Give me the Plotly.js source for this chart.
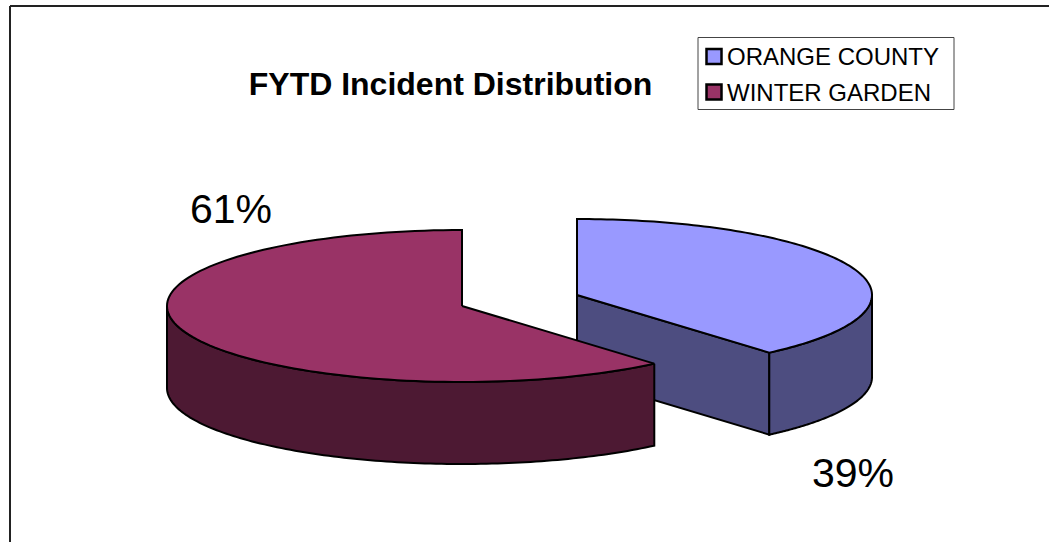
<!DOCTYPE html>
<html>
<head>
<meta charset="utf-8">
<script src="https://cdn.plot.ly/plotly-3.0.1.min.js"></script>
<style>html,body{margin:0;padding:0;background:#fff;overflow:hidden}</style>
</head>
<body>
<div id="chart" style="width:1049px;height:542px"></div>
<script>
const categories = ['ORANGE COUNTY', 'WINTER GARDEN'];
const shares = [38.7, 61.3];
const topColors = ['#9999FF', '#993366'];
const sideColors = ['#4D4D80', '#4D1933'];

const RX = 295, RY = 76, DEPTH = 82;
const centers = [[577, 295], [462, 306]];
const labelPos = [[853, 472.5], [231, 209]];
const FONT = 'Liberation Sans, Arial, sans-serif';

const total = shares.reduce((a, b) => a + b, 0);
const split = shares[0] / total * 2 * Math.PI;
const pt = (c, a, dy) => [c[0] + RX * Math.sin(a), c[1] - RY * Math.cos(a) + (dy || 0)];
function arc(c, a0, a1, dy) {
  const out = [], n = 120;
  for (let i = 0; i <= n; i++) out.push(pt(c, a0 + (a1 - a0) * i / n, dy));
  return out;
}
function poly(points, color, name) {
  const closed = points.concat([points[0]]);
  return {
    type: 'scatter', mode: 'lines', x: closed.map(p => p[0]), y: closed.map(p => p[1]),
    fill: 'toself', fillcolor: color, line: {color: '#000', width: 2, simplify: false},
    hoverinfo: 'text', text: name, showlegend: false
  };
}

const traces = [];
// Orange County slice (behind): radial wall, rim wall, top face
{
  const c = centers[0];
  traces.push(poly([c, pt(c, split), pt(c, split, DEPTH), [c[0], c[1] + DEPTH]], sideColors[0], categories[0]));
  traces.push(poly(arc(c, Math.PI / 2, split).concat(arc(c, split, Math.PI / 2, DEPTH)), sideColors[0], categories[0]));
  traces.push(poly([c].concat(arc(c, 0, split)), topColors[0], categories[0]));
}
// Winter Garden slice (front): rim wall, top face
{
  const c = centers[1];
  traces.push(poly(arc(c, split, 1.5 * Math.PI).concat(arc(c, 1.5 * Math.PI, split, DEPTH)), sideColors[1], categories[1]));
  traces.push(poly([c].concat(arc(c, split, 2 * Math.PI)), topColors[1], categories[1]));
}

const annotations = shares.map((v, i) => ({
  x: labelPos[i][0], y: labelPos[i][1], xref: 'x', yref: 'y', showarrow: false,
  text: Math.round(v / total * 100) + '%', xanchor: 'center', yanchor: 'middle',
  font: {family: FONT, size: 41, color: '#000'}
}));
const swatchY = [56.5, 92];
categories.forEach((name, i) => annotations.push({
  x: 727, y: swatchY[i], xref: 'x', yref: 'y', showarrow: false, text: name,
  xanchor: 'left', yanchor: 'middle', xshift: -2,
  font: {family: FONT, size: 24, color: '#000'}
}));

const shapes = [
  {type: 'line', x0: 10, x1: 10, y0: 6, y1: 542, line: {color: '#222', width: 2}},
  {type: 'line', x0: 10, x1: 1049, y0: 6, y1: 6, line: {color: '#222', width: 2}},
  {type: 'rect', x0: 698, x1: 954, y0: 37.5, y1: 109.5, line: {color: '#444', width: 1}, fillcolor: '#fff', layer: 'below'}
];
categories.forEach((_, i) => shapes.push({
  type: 'rect', x0: 706.5, x1: 721.5, y0: swatchY[i] - 7.5, y1: swatchY[i] + 7.5,
  line: {color: '#000', width: 2.5}, fillcolor: topColors[i]
}));

const layout = {
  width: 1049, height: 542, margin: {l: 0, r: 0, t: 0, b: 0},
  paper_bgcolor: '#fff', plot_bgcolor: '#fff', showlegend: false,
  title: {text: '<b>FYTD Incident Distribution</b>', x: 450.5 / 1049, y: 1 - 84 / 542,
          xanchor: 'center', yanchor: 'middle', font: {family: FONT, size: 32, color: '#000'}},
  xaxis: {range: [0, 1049], visible: false, fixedrange: true},
  yaxis: {range: [542, 0], visible: false, fixedrange: true},
  annotations, shapes
};
Plotly.newPlot('chart', traces, layout, {displayModeBar: false});
</script>
</body>
</html>
